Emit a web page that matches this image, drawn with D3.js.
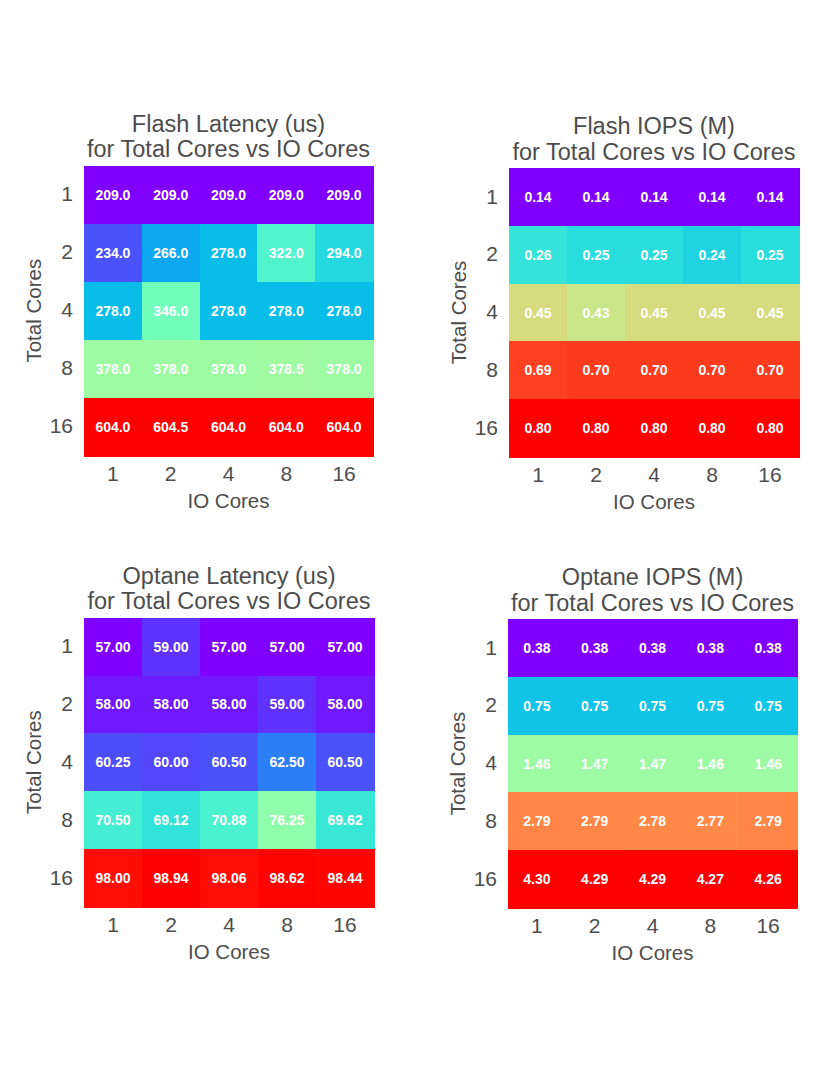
<!DOCTYPE html>
<html>
<head>
<meta charset="utf-8">
<script src="https://cdn.jsdelivr.net/npm/d3@7"></script>
<style>
  html, body { margin: 0; padding: 0; background: #fff; }
  svg { display: block; }
  text { font-family: "Liberation Sans", Arial, sans-serif; }
</style>
</head>
<body>
<svg id="chart" width="830" height="1075"></svg>
<script>
// ---- data ----
const totalCores = ["1", "2", "4", "8", "16"];   // rows
const ioCores = ["1", "2", "4", "8", "16"];      // columns

const flashLatency = [
  [209.0, 209.0, 209.0, 209.0, 209.0],
  [234.0, 266.0, 278.0, 322.0, 294.0],
  [278.0, 346.0, 278.0, 278.0, 278.0],
  [378.0, 378.0, 378.0, 378.5, 378.0],
  [604.0, 604.5, 604.0, 604.0, 604.0]
];
const flashIOPS = [
  [0.14, 0.14, 0.14, 0.14, 0.14],
  [0.26, 0.25, 0.25, 0.24, 0.25],
  [0.45, 0.43, 0.45, 0.45, 0.45],
  [0.69, 0.70, 0.70, 0.70, 0.70],
  [0.80, 0.80, 0.80, 0.80, 0.80]
];
const optaneLatency = [
  [57.00, 59.00, 57.00, 57.00, 57.00],
  [58.00, 58.00, 58.00, 59.00, 58.00],
  [60.25, 60.00, 60.50, 62.50, 60.50],
  [70.50, 69.12, 70.88, 76.25, 69.62],
  [98.00, 98.94, 98.06, 98.62, 98.44]
];
const optaneIOPS = [
  [0.38, 0.38, 0.38, 0.38, 0.38],
  [0.75, 0.75, 0.75, 0.75, 0.75],
  [1.46, 1.47, 1.47, 1.46, 1.46],
  [2.79, 2.79, 2.78, 2.77, 2.79],
  [4.30, 4.29, 4.29, 4.27, 4.26]
];

const titles = [
  ["Flash Latency (us)", "for Total Cores vs IO Cores"],
  ["Flash IOPS (M)", "for Total Cores vs IO Cores"],
  ["Optane Latency (us)", "for Total Cores vs IO Cores"],
  ["Optane IOPS (M)", "for Total Cores vs IO Cores"]
];
const formats = [".1f", ".2f", ".2f", ".2f"];
const matrices = [flashLatency, flashIOPS, optaneLatency, optaneIOPS];

// ---- layout ----
const panels = [
  { x: 84,  y: 165.7, w: 289, h: 290, ylab: 33 },
  { x: 509, y: 168,   w: 290, h: 289, ylab: 458 },
  { x: 84,  y: 617.7, w: 290, h: 289, ylab: 33 },
  { x: 508, y: 619,   w: 289, h: 289, ylab: 457 }
];
const textColor = "#4d4d4d";

// matplotlib "rainbow" colormap (gnuplot 33,13,10), 256 levels
function rainbow(t) {
  t = Math.max(0, Math.min(1, t));
  let idx = Math.min(255, Math.floor(t * 256));
  const x = idx / 255;
  const r = Math.min(1, Math.abs(2 * x - 0.5));
  const g = Math.sin(Math.PI * x);
  const b = Math.cos(Math.PI * x / 2);
  return d3.rgb(r * 255, g * 255, b * 255).toString();
}

const svg = d3.select("#chart");

matrices.forEach((mat, pi) => {
  const p = panels[pi];
  const g = svg.append("g");
  const x = d3.scaleBand().domain(ioCores).range([p.x, p.x + p.w]).paddingInner(0);
  const y = d3.scaleBand().domain(totalCores).range([p.y, p.y + p.h]).paddingInner(0);
  const flat = mat.flat();
  const norm = d3.scaleLog().domain([d3.min(flat), d3.max(flat)]).range([0, 1]);
  const fmt = d3.format(formats[pi]);

  const cells = [];
  mat.forEach((row, ri) => row.forEach((v, ci) => cells.push({ r: totalCores[ri], c: ioCores[ci], v })));

  g.selectAll("rect.cell").data(cells).enter().append("rect")
    .attr("class", "cell")
    .attr("x", d => x(d.c))
    .attr("y", d => y(d.r))
    .attr("width", x.bandwidth() + 1)
    .attr("height", y.bandwidth() + 1)
    .attr("shape-rendering", "crispEdges")
    .attr("fill", d => rainbow(norm(d.v)));

  g.selectAll("text.ann").data(cells).enter().append("text")
    .attr("class", "ann")
    .attr("x", d => x(d.c) + x.bandwidth() / 2)
    .attr("y", d => y(d.r) + y.bandwidth() / 2)
    .attr("text-anchor", "middle")
    .attr("dominant-baseline", "central")
    .attr("fill", "#ffffff")
    .attr("font-weight", "bold")
    .attr("font-size", "14px")
    .text(d => fmt(d.v));

  // axes
  const xAxis = g.append("g").attr("transform", `translate(0,${p.y + p.h})`)
    .call(d3.axisBottom(x).tickSize(0).tickPadding(10));
  const yAxis = g.append("g").attr("transform", `translate(${p.x},0)`)
    .call(d3.axisLeft(y).tickSize(0).tickPadding(11));
  [xAxis, yAxis].forEach(a => {
    a.select(".domain").remove();
    a.selectAll("text").attr("fill", textColor).attr("font-size", "21px")
      .attr("font-family", "Liberation Sans, Arial, sans-serif");
  });
  xAxis.selectAll("text").attr("dy", "0.71em");

  // axis labels
  g.append("text")
    .attr("x", p.x + p.w / 2)
    .attr("y", p.y + p.h + 52)
    .attr("text-anchor", "middle")
    .attr("fill", textColor)
    .attr("font-size", "20.5px")
    .text("IO Cores");
  g.append("text")
    .attr("transform", `translate(${p.ylab},${p.y + p.h / 2}) rotate(-90)`)
    .attr("text-anchor", "middle")
    .attr("dominant-baseline", "central")
    .attr("fill", textColor)
    .attr("font-size", "20.5px")
    .text("Total Cores");

  // title
  const t = titles[pi];
  g.append("text")
    .attr("x", p.x + p.w / 2)
    .attr("y", p.y - 34)
    .attr("text-anchor", "middle")
    .attr("fill", textColor)
    .attr("font-size", "23.5px")
    .text(t[0]);
  g.append("text")
    .attr("x", p.x + p.w / 2)
    .attr("y", p.y - 8.5)
    .attr("text-anchor", "middle")
    .attr("fill", textColor)
    .attr("font-size", "23.5px")
    .text(t[1]);
});
</script>
</body>
</html>
